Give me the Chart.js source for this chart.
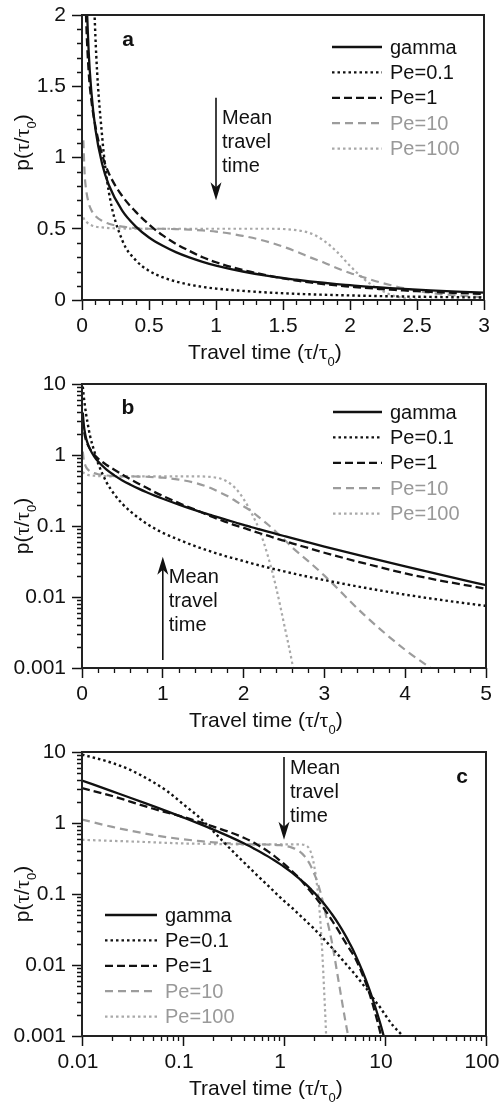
<!DOCTYPE html>
<html>
<head>
<meta charset="utf-8">
<script src="https://cdn.jsdelivr.net/npm/chart.js@4.4.1/dist/chart.umd.min.js"></script>
<style>
html, body { margin: 0; padding: 0; background: #fff; }
#wrap { position: relative; width: 501px; height: 1106px; overflow: hidden; }
canvas { position: absolute; left: 0; }
</style>
</head>
<body>
<div id="wrap">
	<canvas id="panelA" width="501" height="368" style="top:0px"></canvas>
	<canvas id="panelB" width="501" height="368" style="top:368px"></canvas>
	<canvas id="panelC" width="501" height="370" style="top:736px"></canvas>
</div>
<script>
// travel time (tau/tau0) shared by all curves
const travelTime = [0.01, 0.02, 0.03, 0.05, 0.07, 0.1, 0.15, 0.2, 0.3, 0.4,
	0.5, 0.6, 0.7, 0.8, 0.9, 1.0, 1.2, 1.4, 1.6, 1.7,
	1.8, 1.9, 2.0, 2.1, 2.2, 2.3, 2.4, 2.5, 2.6, 2.8,
	3.0, 3.5, 4.0, 4.5, 5, 6, 7, 8, 9, 10,
	12, 15, 20];

// p(tau/tau0)
const gammaDist = [3.97, 2.79, 2.27, 1.74, 1.46, 1.20, 0.956, 0.807, 0.627, 0.517,
	0.439, 0.382, 0.336, 0.299, 0.268, 0.242, 0.200, 0.167, 0.142, 0.131,
	0.121, 0.112, 0.104, 0.096, 0.0895, 0.0833, 0.0776, 0.0723, 0.0674, 0.0588,
	0.0514, 0.0371, 0.0270, 0.0198, 0.0147, 0.0081, 0.00455, 0.00258, 0.00148, 0.00085,
	0.000285, 0.000057, 0.000004];
const pe01 = [9.2, 7.0, 5.6, 3.8, 2.8, 1.85, 1.15, 0.76, 0.42, 0.28,
	0.205, 0.16, 0.13, 0.108, 0.092, 0.08, 0.064, 0.052, 0.0435, 0.040,
	0.037, 0.0345, 0.032, 0.0298, 0.0278, 0.026, 0.0244, 0.023, 0.0216, 0.0193,
	0.0173, 0.0135, 0.0108, 0.0089, 0.0075, 0.0054, 0.0041, 0.0031, 0.0025, 0.002,
	0.0014, 0.001, 0.0006];
const pe1 = [3.1, 2.4, 2.0, 1.6, 1.4, 1.22, 1.02, 0.89, 0.73, 0.62,
	0.53, 0.455, 0.395, 0.345, 0.30, 0.265, 0.21, 0.17, 0.136, 0.123,
	0.112, 0.102, 0.094, 0.086, 0.079, 0.073, 0.067, 0.062, 0.057, 0.049,
	0.042, 0.0297, 0.0215, 0.0165, 0.013, 0.0073, 0.004, 0.0021, 0.0011, 0.00055,
	0.00014, 0.00002, 0.000001];
const pe10 = [1.12, 0.88, 0.78, 0.68, 0.63, 0.59, 0.555, 0.535, 0.515, 0.505,
	0.5, 0.5, 0.497, 0.494, 0.488, 0.48, 0.45, 0.405, 0.34, 0.30,
	0.265, 0.225, 0.19, 0.16, 0.13, 0.105, 0.083, 0.065, 0.05, 0.032,
	0.02, 0.0055, 0.0018, 0.0007, 0.00022, 0.00002, 0.000001, null, null, null,
	null, null, null];
const pe100 = [0.58, 0.56, 0.55, 0.535, 0.525, 0.515, 0.51, 0.505, 0.502, 0.5,
	0.5, 0.5, 0.5, 0.5, 0.5, 0.5, 0.5, 0.5, 0.49, 0.47,
	0.42, 0.34, 0.24, 0.15, 0.085, 0.038, 0.014, 0.0042, 0.0012, 0.00006,
	0.000002, null, null, null, null, null, null, null, null, null,
	null, null, null];

const seriesLabels = ["gamma", "Pe=0.1", "Pe=1", "Pe=10", "Pe=100"];
const seriesValues = [gammaDist, pe01, pe1, pe10, pe100];

const linTicksA_x = [0, 0.5, 1, 1.5, 2, 2.5, 3];
const linTicksA_y = [0, 0.5, 1, 1.5, 2];
const linTicksB_x = [0, 1, 2, 3, 4, 5];
const logTicksY = [0.001, 0.01, 0.1, 1, 10];
const logTicksC_x = [0.01, 0.1, 1, 10, 100];
const noteLines = ["Mean", "travel", "time"];

const SANS = "'Liberation Sans', Arial, sans-serif";
const SERIF = "'Liberation Serif', 'Times New Roman', serif";
const styles = [
	{ color: "#111", dash: [], width: 2.3, text: "#111" },
	{ color: "#111", dash: [2.5, 3], width: 2.4, text: "#111" },
	{ color: "#111", dash: [8, 4], width: 2.3, text: "#111" },
	{ color: "#9c9c9c", dash: [8, 5], width: 2.2, text: "#999" },
	{ color: "#a9a9a9", dash: [2.5, 3], width: 2.2, text: "#999" },
];

function minorValues(scale, step) {
	const out = [];
	if (scale.type === "logarithmic") {
		for (let d = scale.min; d < scale.max * 0.99; d *= 10) {
			for (let k = 2; k <= 9; k++) out.push(k * d);
		}
	} else {
		for (let v = scale.min; v <= scale.max + 1e-9; v += step) {
			if (Math.abs(v / (step * 5) - Math.round(v / (step * 5))) > 1e-6) out.push(v);
		}
	}
	return out;
}

function drawRich(ctx, parts, x, y) {
	let w = 0;
	parts.forEach(p => { ctx.font = p.f; w += ctx.measureText(p.t).width; });
	let cx = x - w / 2;
	parts.forEach(p => {
		ctx.font = p.f;
		ctx.fillText(p.t, cx, y + (p.dy || 0));
		cx += ctx.measureText(p.t).width;
	});
}

function titleParts(head) {
	return [
		{ t: head, f: "21px " + SANS },
		{ t: "\u03c4", f: "22px " + SERIF },
		{ t: "/", f: "21px " + SANS },
		{ t: "\u03c4", f: "22px " + SERIF },
		{ t: "0", f: "13px " + SANS, dy: 7 },
		{ t: ")", f: "21px " + SANS },
	];
}

const panelDecor = {
	id: "panelDecor",
	afterDraw(chart, args, o) {
		const ctx = chart.ctx, ca = chart.chartArea;
		const xs = chart.scales.x, ys = chart.scales.y;
		ctx.save();
		ctx.strokeStyle = "#111";
		ctx.lineWidth = 1.3;
		ctx.beginPath();
		minorValues(xs, o.xMinor).forEach(v => {
			const px = Math.round(xs.getPixelForValue(v)) + 0.5;
			ctx.moveTo(px, ca.bottom); ctx.lineTo(px, ca.bottom + 5);
		});
		minorValues(ys, o.yMinor).forEach(v => {
			const py = Math.round(ys.getPixelForValue(v)) + 0.5;
			ctx.moveTo(ca.left - 5, py); ctx.lineTo(ca.left, py);
		});
		ctx.stroke();

		// frame
		ctx.lineWidth = 2;
		ctx.strokeStyle = "#222";
		ctx.strokeRect(ca.left, ca.top, ca.right - ca.left, ca.bottom - ca.top);

		// panel letter
		ctx.fillStyle = "#111";
		ctx.font = "bold 21px " + SANS;
		ctx.textAlign = "center";
		ctx.textBaseline = "middle";
		ctx.fillText(o.letter, ca.left + o.letterX, ca.top + o.letterY);

		// legend
		ctx.textAlign = "left";
		ctx.font = "20px " + SANS;
		chart.data.datasets.forEach((ds, i) => {
			const y = ca.top + o.legY + i * 25.4;
			ctx.strokeStyle = ds.borderColor;
			ctx.lineWidth = ds.borderWidth;
			ctx.setLineDash(ds.borderDash);
			ctx.beginPath();
			ctx.moveTo(ca.left + o.legX0, y);
			ctx.lineTo(ca.left + o.legX1, y);
			ctx.stroke();
			ctx.setLineDash([]);
			ctx.fillStyle = styles[i].text;
			ctx.fillText(ds.label, ca.left + o.legX1 + 8, y + 1);
		});

		// mean travel time arrow
		const ax = xs.getPixelForValue(1);
		const yFrom = ys.getPixelForValue(o.arrowFrom);
		const yTip = ys.getPixelForValue(o.arrowTo);
		const dir = yTip > yFrom ? 1 : -1;
		ctx.strokeStyle = "#111";
		ctx.fillStyle = "#111";
		ctx.lineWidth = 1.6;
		ctx.beginPath();
		ctx.moveTo(ax, yFrom);
		ctx.lineTo(ax, yTip - dir * 10);
		ctx.stroke();
		ctx.beginPath();
		ctx.moveTo(ax, yTip);
		ctx.lineTo(ax - 5.5, yTip - dir * 18);
		ctx.lineTo(ax, yTip - dir * 13);
		ctx.lineTo(ax + 5.5, yTip - dir * 18);
		ctx.closePath();
		ctx.fill();
		ctx.font = "20px " + SANS;
		ctx.textAlign = "left";
		noteLines.forEach((t, i) => {
			ctx.fillText(t, ax + 6, ca.top + o.noteY + i * 24);
		});

		// axis titles
		ctx.fillStyle = "#111";
		ctx.textBaseline = "alphabetic";
		drawRich(ctx, titleParts("Travel time ("), ca.left + (ca.right - ca.left) * 0.455, ca.bottom + 59);
		ctx.translate(29, (ca.top + ca.bottom) / 2 + o.yTitleShift);
		ctx.rotate(-Math.PI / 2);
		drawRich(ctx, titleParts("p("), 0, 0);
		ctx.restore();
	}
};

function makePanel(canvasId, cfg) {
	const datasets = seriesValues.map((vals, i) => ({
		label: seriesLabels[i],
		data: travelTime.map((t, j) => ({ x: t, y: vals[j] })),
		borderColor: styles[i].color,
		borderWidth: styles[i].width,
		borderDash: styles[i].dash,
		pointRadius: 0,
		cubicInterpolationMode: "monotone",
		spanGaps: false,
		clip: 0,
	}));
	const tickFont = { family: SANS, size: 21 };
	return new Chart(document.getElementById(canvasId), {
		type: "line",
		data: { datasets },
		options: {
			responsive: false,
			animation: false,
			devicePixelRatio: 1,
			layout: { padding: { top: cfg.padTop, right: cfg.padRight, left: 0, bottom: 0 } },
			plugins: {
				legend: { display: false },
				tooltip: { enabled: false },
				panelDecor: cfg.decor,
			},
			scales: {
				x: {
					type: cfg.xType,
					min: cfg.xTicks[0],
					max: cfg.xTicks[cfg.xTicks.length - 1],
					afterBuildTicks: s => { s.ticks = cfg.xTicks.map(v => ({ value: v })); },
					afterFit: s => { s.height = cfg.xHeight; s.paddingLeft = 0; s.paddingRight = 0; },
					ticks: {
						font: tickFont, color: "#111", padding: 4, maxRotation: 0, autoSkip: false,
						labelOffset: cfg.xLabelOffset,
						callback: v => String(v),
					},
					grid: { drawOnChartArea: false, drawTicks: true, tickLength: 10, tickColor: "#111", tickWidth: 1.5 },
					border: { display: false },
				},
				y: {
					type: cfg.yType,
					min: cfg.yTicks[0],
					max: cfg.yTicks[cfg.yTicks.length - 1],
					afterBuildTicks: s => { s.ticks = cfg.yTicks.map(v => ({ value: v })); },
					afterFit: s => { s.width = 82; s.paddingTop = 0; s.paddingBottom = 0; },
					ticks: {
						font: tickFont, color: "#111", padding: 6, autoSkip: false,
						callback: v => String(v),
					},
					grid: { drawOnChartArea: false, drawTicks: true, tickLength: 10, tickColor: "#111", tickWidth: 1.5 },
					border: { display: false },
				},
			},
		},
		plugins: [panelDecor],
	});
}

makePanel("panelA", {
	xType: "linear", yType: "linear",
	xTicks: linTicksA_x, yTicks: linTicksA_y,
	padTop: 15, padRight: 17, xHeight: 68, xLabelOffset: 0,
	decor: {
		xMinor: 0.1, yMinor: 0.1, letter: "a", letterX: 46, letterY: 25,
		legX0: 250, legX1: 300, legY: 32,
		arrowFrom: 1.42, arrowTo: 0.70, noteY: 103, yTitleShift: -15,
	},
});

makePanel("panelB", {
	xType: "linear", yType: "logarithmic",
	xTicks: linTicksB_x, yTicks: logTicksY,
	padTop: 16, padRight: 15, xHeight: 68, xLabelOffset: 0,
	decor: {
		xMinor: 0.2, yMinor: 0, letter: "b", letterX: 46, letterY: 24,
		legX0: 251, legX1: 300, legY: 28,
		arrowFrom: 0.0013, arrowTo: 0.037, noteY: 193, yTitleShift: 0,
	},
});

makePanel("panelC", {
	xType: "logarithmic", yType: "logarithmic",
	xTicks: logTicksC_x, yTicks: logTicksY,
	padTop: 16, padRight: 15, xHeight: 70, xLabelOffset: -4,
	decor: {
		xMinor: 0, yMinor: 0, letter: "c", letterX: 380, letterY: 25,
		legX0: 23, legX1: 75, legY: 163,
		arrowFrom: 8.5, arrowTo: 0.58, noteY: 16, yTitleShift: 0,
	},
});
</script>
</body>
</html>
